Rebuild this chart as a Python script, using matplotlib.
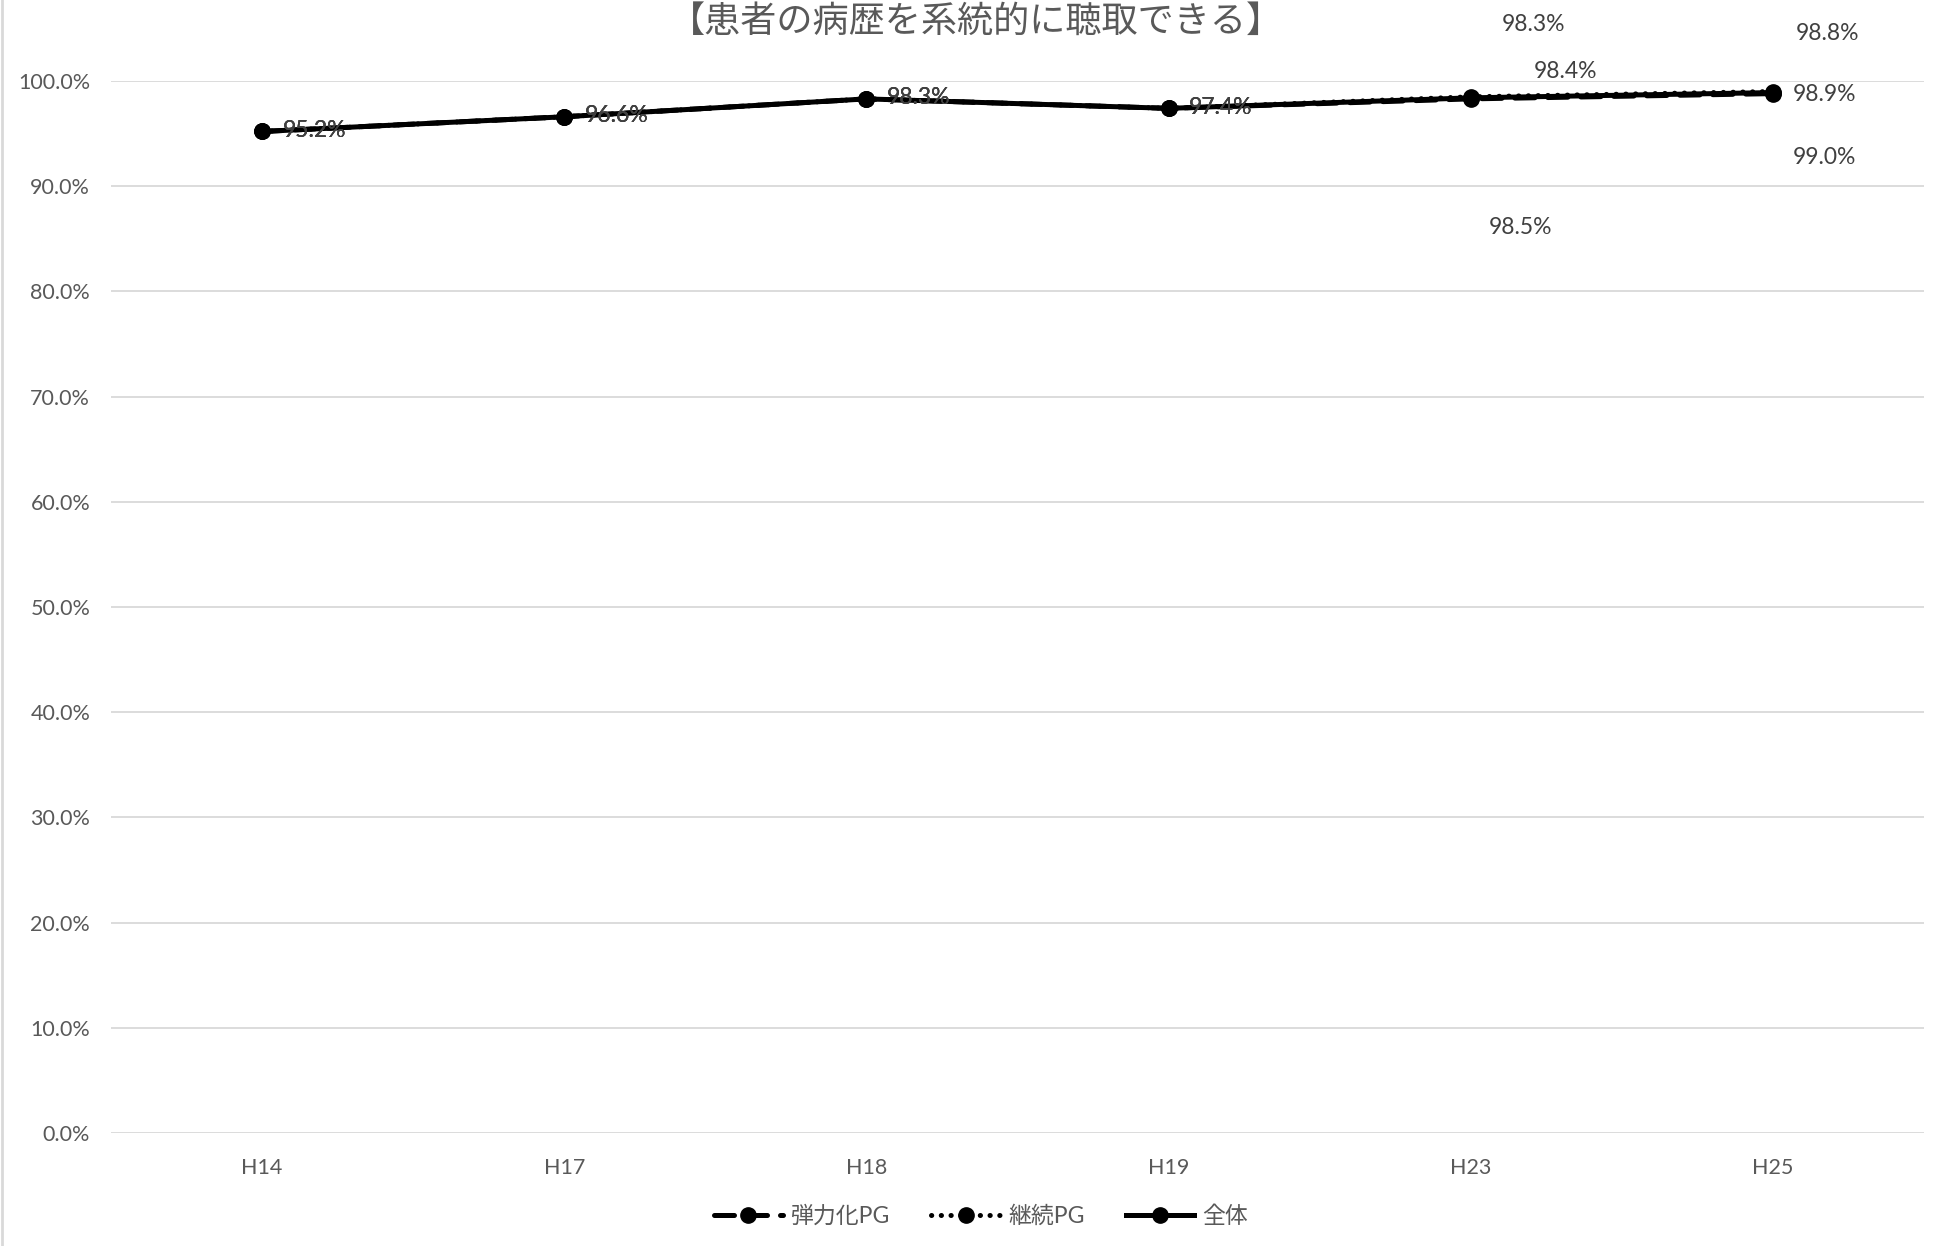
import matplotlib
matplotlib.use("Agg")
import matplotlib.pyplot as plt
from matplotlib.lines import Line2D
import numpy as np

plt.rcParams['font.family'] = ['Lato', 'Noto Sans CJK JP', 'DejaVu Sans']

# ---- data ----
categories = ["H14", "H17", "H18", "H19", "H23", "H25"]
series_names = ["弾力化PG", "継続PG", "全体"]
elastic = [95.2, 96.6, 98.3, 97.4, 98.3, 98.8]
continued = [95.2, 96.6, 98.3, 97.4, 98.5, 99.0]
overall = [95.2, 96.6, 98.3, 97.4, 98.4, 98.9]
yticks = [0, 10, 20, 30, 40, 50, 60, 70, 80, 90, 100]
title = "【患者の病歴を系統的に聴取できる】"

# ---- styles ----
W, H = 1955, 1246
fig = plt.figure(figsize=(W / 100, H / 100), dpi=100)
left, right, top, bottom = 111, 1924, 81, 1133
ax = fig.add_axes([left / W, 1 - bottom / H, (right - left) / W, (bottom - top) / H])

x = np.arange(len(categories))
lw = 3.6
ms = 11
styles = [
    dict(linestyle=(0, (4.0, 2.6)), dash_capstyle='round'),
    dict(linestyle=(0, (0.05, 1.9)), dash_capstyle='round'),
    dict(linestyle='-'),
]
default_off = (52, 1)
offsets = [
    {4: (63, 74), 5: (55, 60)},
    {4: (50, -131), 5: (52, -66)},
    {4: (95, 26), 5: (52, -2)},
]
data = [elastic, continued, overall]

handles = []
for name, vals, st, offs in zip(series_names, data, styles, offsets):
    ax.plot(x, vals, color='black', lw=lw, marker='o', ms=ms,
            markeredgecolor='black', markerfacecolor='black', **st)
    handles.append(Line2D([0], [0], color='black', lw=lw, marker='o', ms=ms, **st))
    for i, v in enumerate(vals):
        dx, dy = offs.get(i, default_off)
        ax.annotate(f"{v:.1f}%", (x[i], v), xytext=(dx, dy), textcoords='offset pixels',
                    ha='center', va='center', fontsize=16.5, color='#404040',
                    annotation_clip=False)

ax.set_xlim(-0.5, len(categories) - 0.5)
ax.set_ylim(0, 100)
ax.set_yticks(yticks)
ax.set_yticklabels([f"{t:.1f}%" for t in yticks])
ax.set_xticks(x)
ax.set_xticklabels(categories)
ax.tick_params(axis='both', length=0, labelsize=15.5, labelcolor='#595959')
ax.tick_params(axis='y', pad=15)
ax.tick_params(axis='x', pad=18)
ax.yaxis.grid(True, color='#d9d9d9', lw=1.3)
ax.set_axisbelow(True)
for s in ax.spines.values():
    s.set_visible(False)

fig.text(976 / W, 1 - 22 / H, title, ha='center', va='center', fontsize=26,
         color='#595959', family=['Noto Sans CJK JP'])

fig.legend(handles, series_names, loc='center', bbox_to_anchor=(981 / W, 1 - 1216 / H),
           ncol=3, frameon=False, fontsize=16.5, handlelength=3.0, columnspacing=1.8,
           handletextpad=0.35, labelcolor='#595959')

fig.add_artist(Line2D([1.5 / W, 1.5 / W], [0, 1], color='#d9d9d9', lw=2,
                      transform=fig.transFigure))

fig.savefig("out.png", dpi=100, facecolor='white')
